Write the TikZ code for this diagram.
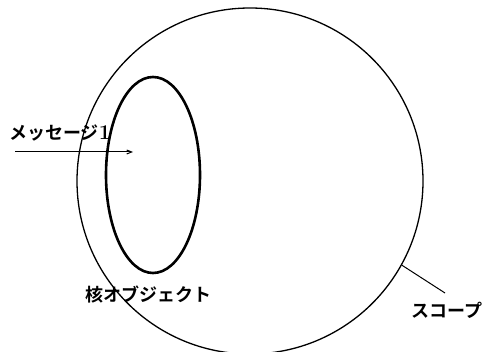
\documentclass[tikz,border=0pt]{standalone}
\usepackage{fontspec}
\newfontfamily\jpfont{Noto Sans CJK JP}[BoldFont={* Bold}]
\usetikzlibrary{shapes.geometric,arrows.meta}
\begin{document}
\begin{tikzpicture}[x=1pt,y=-1pt,
  lbl/.style={font=\jpfont\bfseries\fontsize{18}{20}\selectfont, inner sep=0pt, anchor=west},
  outerline/.style={draw, line width=1.3pt},
  coreline/.style={draw, line width=2.6pt},
  conn/.style={line width=1pt}]
\useasboundingbox (0,0) rectangle (487,352);
\node[outerline, circle, minimum size=346pt, inner sep=0pt] (scope) at (250,181) {};
\node[coreline, ellipse, minimum width=94pt, minimum height=196pt, inner sep=0pt] (core) at (153,175) {};
\node[lbl] (msg) at (9,133) {メッセージ{\normalfont\bfseries\fontsize{21}{22}\selectfont 1}};
\node[lbl] (corelbl) at (85,295) {核オブジェクト};
\node[lbl] (scopelbl) at (411,310) {スコープ};
\coordinate (arrstart) at (15,152);
\coordinate (arrend) at (133,152);
\draw[conn, -{Straight Barb[length=5pt,width=4pt]}] (arrstart) -- (arrend);
\coordinate (leadend) at (445,293);
\draw[conn] (scope.-29) -- (leadend);
\end{tikzpicture}
\end{document}
